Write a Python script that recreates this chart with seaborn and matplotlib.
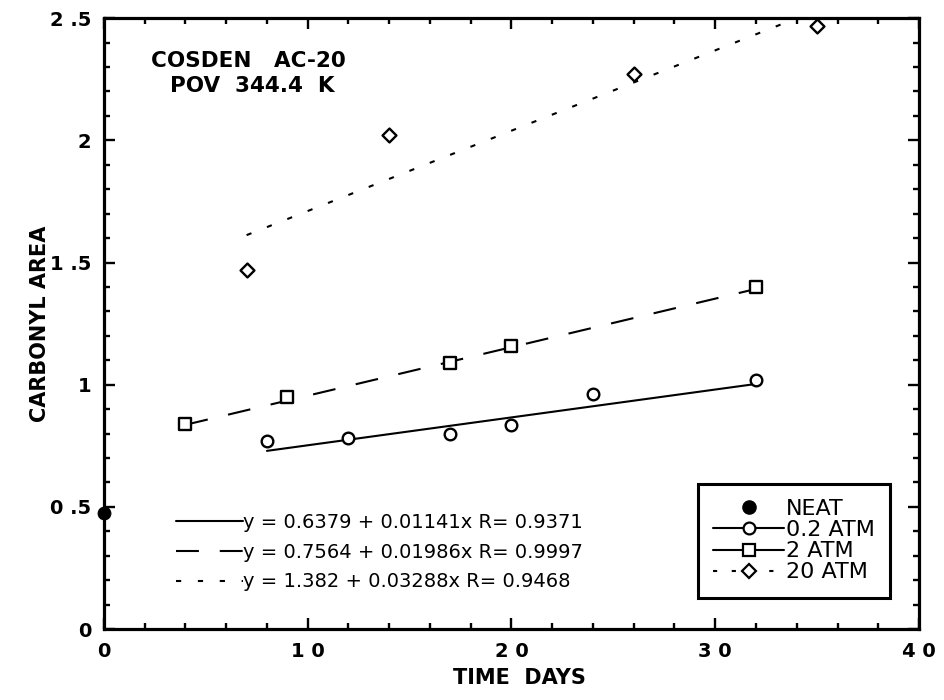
import numpy as np
import pandas as pd
import matplotlib
matplotlib.use("Agg")
import matplotlib.pyplot as plt
from matplotlib.lines import Line2D
from matplotlib.ticker import MultipleLocator, FixedLocator, FixedFormatter
import seaborn as sns

# ---- data ----
neat_x = [0]
neat_y = [0.475]
atm02_x = [8, 12, 17, 20, 24, 32]
atm02_y = [0.77, 0.78, 0.80, 0.835, 0.96, 1.02]
atm2_x = [4, 9, 17, 20, 32]
atm2_y = [0.84, 0.95, 1.09, 1.16, 1.40]
atm20_x = [7, 14, 26, 35]
atm20_y = [1.47, 2.02, 2.27, 2.47]

fit_intercepts = [0.6379, 0.7564, 1.382]
fit_slopes = [0.01141, 0.01986, 0.03288]
fit_r = [0.9371, 0.9997, 0.9468]
fit_ranges = [(8, 32), (4, 32), (7, 35)]

series_labels = ["NEAT", "0.2 ATM", "2 ATM", "20 ATM"]
x_tick_vals = [0, 10, 20, 30, 40]
x_tick_labels = ["0", "1 0", "2 0", "3 0", "4 0"]
y_tick_vals = [0, 0.5, 1, 1.5, 2, 2.5]
y_tick_labels = ["0", "0 .5", "1", "1 .5", "2", "2 .5"]

sns.set_theme(style="ticks")
plt.rcParams['font.family'] = ['DejaVu Sans']
plt.rcParams.update({"text.color": "black", "axes.labelcolor": "black",
                     "xtick.color": "black", "ytick.color": "black",
                     "axes.edgecolor": "black"})

fig = plt.figure(figsize=(9.45, 7.0), dpi=100)
ax = fig.add_axes([0.110, 0.1014, 0.8625, 0.8726])

lw = 1.5
styles = ["-", (0, (11, 10)), (0, (2.5, 8))]

# fit lines
for b0, b1, (x0, x1), ls in zip(fit_intercepts, fit_slopes, fit_ranges, styles):
    xs = np.array([x0, x1], dtype=float)
    df = pd.DataFrame({"x": xs, "y": b0 + b1 * xs})
    sns.lineplot(data=df, x="x", y="y", ax=ax, color="black", lw=lw,
                 linestyle=ls, legend=False)

# markers
sns.scatterplot(x=neat_x, y=neat_y, ax=ax, marker="o", s=85, color="black",
                edgecolor="black", clip_on=False, zorder=5, legend=False)
sns.scatterplot(x=atm02_x, y=atm02_y, ax=ax, marker="o", s=70, facecolor="white",
                edgecolor="black", linewidth=1.7, zorder=5, legend=False)
sns.scatterplot(x=atm2_x, y=atm2_y, ax=ax, marker="s", s=75, facecolor="white",
                edgecolor="black", linewidth=1.7, zorder=5, legend=False)
sns.scatterplot(x=atm20_x, y=atm20_y, ax=ax, marker="D", s=50, facecolor="white",
                edgecolor="black", linewidth=1.7, zorder=5, legend=False)

ax.set_xlim(0, 40)
ax.set_ylim(0, 2.5)

ax.xaxis.set_major_locator(FixedLocator(x_tick_vals))
ax.xaxis.set_major_formatter(FixedFormatter(x_tick_labels))
ax.xaxis.set_minor_locator(MultipleLocator(2))
ax.yaxis.set_major_locator(FixedLocator(y_tick_vals))
ax.yaxis.set_major_formatter(FixedFormatter(y_tick_labels))
ax.yaxis.set_minor_locator(MultipleLocator(0.1))

for s in ax.spines.values():
    s.set_visible(True)
    s.set_linewidth(2.3)
    s.set_color("black")

ax.tick_params(which="both", direction="in", top=True, right=True,
               color="black", labelcolor="black", width=1.7)
ax.tick_params(which="major", length=8)
ax.tick_params(which="minor", length=4)
ax.tick_params(axis="y", which="major", pad=9, labelsize=14)
ax.tick_params(axis="x", which="major", pad=9, labelsize=14)
for lab in ax.get_xticklabels() + ax.get_yticklabels():
    lab.set_fontweight("bold")

ax.set_xlabel("TIME  DAYS", fontsize=15, fontweight="bold", color="black")
ax.xaxis.set_label_coords(0.51, -0.064)
ax.set_ylabel("CARBONYL AREA", fontsize=15, fontweight="bold", color="black")
ax.yaxis.set_label_coords(-0.066, 0.5)

ax.text(0.177, 0.920, "COSDEN   AC-20", transform=ax.transAxes, color="black",
        ha="center", va="baseline", fontsize=15.5, fontweight="bold")
ax.text(0.182, 0.879, "POV  344.4  K", transform=ax.transAxes, color="black",
        ha="center", va="baseline", fontsize=15.5, fontweight="bold")

# legend for series
leg_handles = [
    Line2D([], [], color="black", marker="o", linestyle="none", markersize=9.5),
    Line2D([], [], color="black", marker="o", linestyle="-", lw=lw,
           markerfacecolor="white", markeredgewidth=1.6, markersize=8.5),
    Line2D([], [], color="black", marker="s", linestyle="-", lw=lw,
           markerfacecolor="white", markeredgewidth=1.6, markersize=8.5),
    Line2D([], [], color="black", marker="D", linestyle=(0, (2, 7)), lw=lw,
           markerfacecolor="white", markeredgewidth=1.6, markersize=7),
]
leg1 = ax.legend(leg_handles, series_labels, loc="lower right",
                 bbox_to_anchor=(0.9644, 0.0507), fontsize=16, frameon=True,
                 fancybox=False, edgecolor="black", handlelength=3.2,
                 handletextpad=0.05, labelspacing=0.05, borderpad=0.7,
                 borderaxespad=0, labelcolor="black", framealpha=1)
leg1.get_frame().set_linewidth(2.2)
ax.add_artist(leg1)

# regression equations
eq_handles = [Line2D([], [], color="black", lw=lw, linestyle=ls) for ls in styles]
eq_labels = [f"y = {b0} + {b1}x R= {r}" for b0, b1, r in
             zip(fit_intercepts, fit_slopes, fit_r)]
leg2 = ax.legend(eq_handles, eq_labels, loc="lower left",
                 bbox_to_anchor=(0.0785, 0.049), fontsize=14, frameon=False,
                 handlelength=3.45, handletextpad=0.0, labelspacing=0.55,
                 borderaxespad=0, labelcolor="black")

fig.savefig("out.png", dpi=100)
